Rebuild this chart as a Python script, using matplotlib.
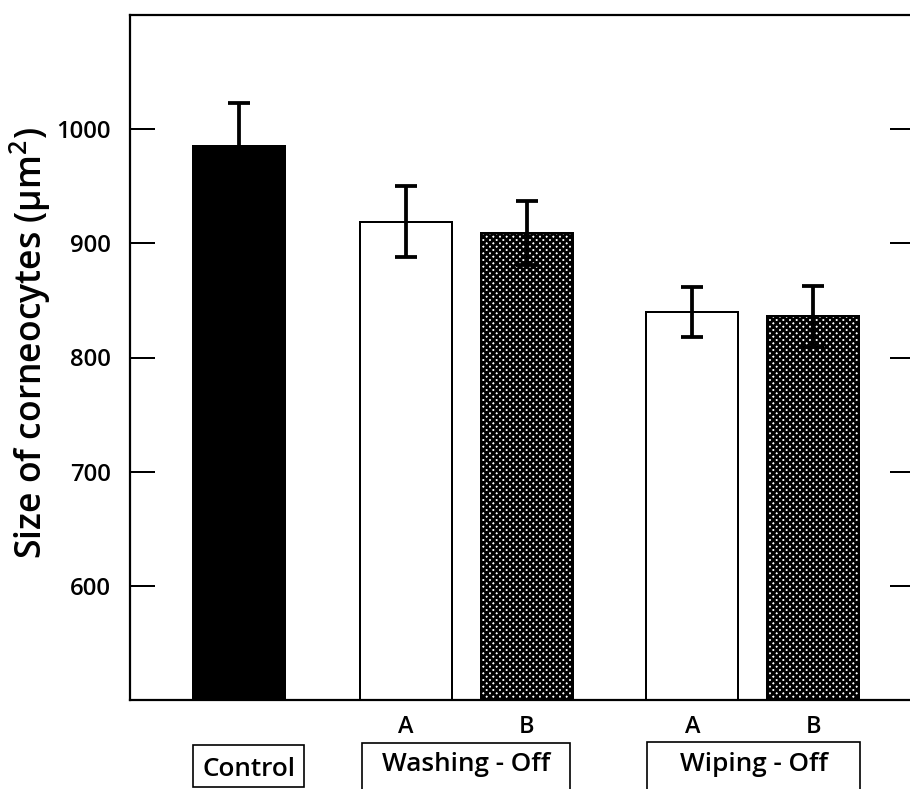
import matplotlib
matplotlib.use("Agg")
import matplotlib.pyplot as plt
import matplotlib.transforms as mtransforms
from matplotlib.patches import Rectangle

plt.rcParams['font.family'] = ['Open Sans', 'DejaVu Sans']
plt.rcParams['mathtext.fontset'] = 'custom'
plt.rcParams['mathtext.rm'] = 'Open Sans:semibold'
plt.rcParams['mathtext.default'] = 'regular'
plt.rcParams['hatch.linewidth'] = 2.5

# ---- data ----
bar_labels = ["Control", "Washing A", "Washing B", "Wiping A", "Wiping B"]
sizes = [985, 919, 909, 840, 836]
errors = [38, 31, 28, 22, 27]
sub_labels = ["", "A", "B", "A", "B"]
group_labels = ["Control", "Washing - Off", "Wiping - Off"]
yticks = [600, 700, 800, 900, 1000]

# ---- layout ----
positions = [0, 1.38, 2.38, 3.75, 4.75]
facecolors = ["black", "white", "white", "white", "white"]
hatches = [None, None, "xxxx", None, "xxxx"]
FW = "semibold"

DPI = 80
fig = plt.figure(figsize=(910 / DPI, 789 / DPI), dpi=DPI)
ax = fig.add_axes([130 / 910, 1 - 700 / 789, 785 / 910, 685 / 789])

for x, h, e, fc, ht in zip(positions, sizes, errors, facecolors, hatches):
    ax.bar(x, h, width=0.76, bottom=0, color=fc, edgecolor="black",
           linewidth=1.8, hatch=ht, zorder=2)
ax.errorbar(positions, sizes, yerr=errors, fmt="none", ecolor="black",
            elinewidth=3.4, capsize=9.5, capthick=3.4, zorder=3)

ax.set_ylim(500, 1100)
ax.set_xlim(-0.897, 5.59)
ax.set_yticks(yticks)
ax.set_yticklabels([str(v) for v in yticks], fontsize=21.5, fontweight=FW)
ax.set_xticks([])
ax.tick_params(axis="y", direction="in", length=22.5, width=1.8,
               right=True, labelright=False, pad=17)
for s in ax.spines.values():
    s.set_linewidth(2.0)

fig.text(30 / 910, 1 - 343 / 789, "Size of corneocytes (µm$^{2}$)",
         rotation=90, ha="center", va="center", fontsize=32, fontweight=FW)

trans = mtransforms.blended_transform_factory(ax.transData, fig.transFigure)

# sub labels A / B
for x, lab in zip(positions, sub_labels):
    if lab:
        ax.text(x, 1 - 733 / 789, lab, transform=trans, ha="center",
                va="baseline", fontsize=21, fontweight=FW, clip_on=False)

# group boxes
def px2x(px):
    return (px - 238.5) / 121.0

boxes = [(193, 304, 745, 787, True), (362, 570, 743, 800, False),
         (647, 860, 742, 800, False)]
text_base = [776, 771, 771]
for (x0, x1, yt, yb, closed), lab, yb_txt in zip(boxes, group_labels, text_base):
    xa, xb = px2x(x0), px2x(x1)
    ya, yb_f = 1 - yt / 789, 1 - yb / 789
    ax.add_patch(Rectangle((xa, yb_f), xb - xa, ya - yb_f, transform=trans,
                           fill=False, edgecolor="black", linewidth=1.5,
                           clip_on=False))
    ax.text((xa + xb) / 2, 1 - yb_txt / 789, lab, transform=trans,
            ha="center", va="baseline", fontsize=23.5, fontweight=FW,
            clip_on=False)

fig.savefig("out.png", dpi=DPI)
